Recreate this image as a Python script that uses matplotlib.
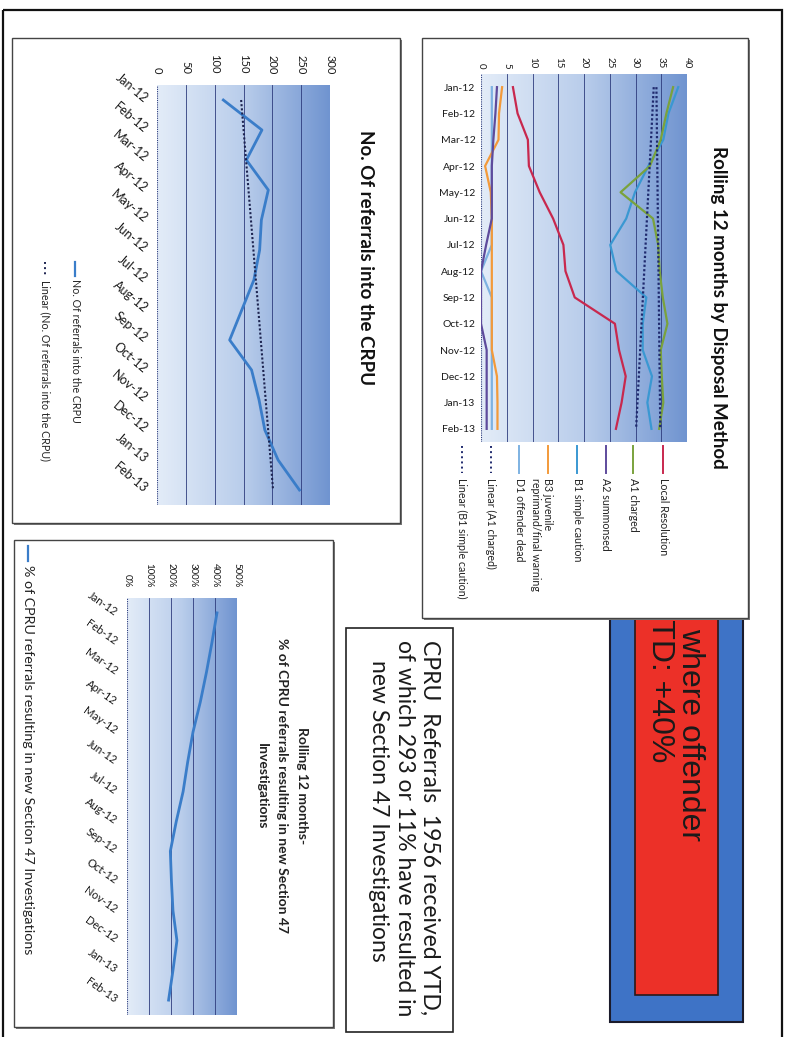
import numpy as np
import matplotlib
matplotlib.use("Agg")
from matplotlib import pyplot as plt
from matplotlib.colors import LinearSegmentedColormap
from matplotlib.patches import Rectangle

W, H = 790, 1037
plt.rcParams['font.family'] = ['Lato', 'DejaVu Sans']

months = ['Jan-12', 'Feb-12', 'Mar-12', 'Apr-12', 'May-12', 'Jun-12', 'Jul-12',
          'Aug-12', 'Sep-12', 'Oct-12', 'Nov-12', 'Dec-12', 'Jan-13', 'Feb-13']

# Rolling 12 months by disposal method
local_resolution = [6.2, 7.1, 9.1, 9.3, 11.4, 14.0, 16.0, 16.4, 18.2, 26.0, 26.8, 28.1, 27.3, 26.2]
a1_charged = [37.3, 36.0, 34.9, 32.8, 27.1, 33.4, 34.4, 34.7, 35.3, 36.2, 34.9, 35.1, 35.4, 34.6]
a2_summonsed = [3.1, 2.8, 2.4, 2.1, 2.1, 2.1, 1.0, 0.0, 0.0, 0.0, 1.1, 1.1, 1.1, 1.1]
b1_simple_caution = [38.3, 36.4, 35.4, 32.5, 29.9, 28.2, 25.1, 26.3, 32.1, 31.4, 31.4, 33.2, 32.3, 33.1]
b3_juvenile = [4.1, 3.5, 3.4, 0.8, 1.9, 2.1, 2.1, 2.1, 2.1, 2.1, 2.1, 3.1, 3.2, 3.2]
d1_offender_dead = [2.1, 2.1, 2.1, 2.1, 2.1, 2.1, 2.1, 0.0, 2.1, 2.1, 2.1, 2.1, 2.1, 2.1]

# No. of referrals into the CRPU
referrals = [115, 182, 155, 193, 181, 178, 168, 147, 126, 164, 177, 187, 210, 247]

# % of CPRU referrals resulting in new Section 47 investigations
s47_pct = [409, 386, 361, 333, 300, 276, 255, 224, 197, 202, 209, 227, 209, 189]

fig = plt.figure(figsize=(W / 100, H / 100), dpi=100)
fig.patch.set_facecolor('white')

bg = fig.add_axes([0, 0, 1, 1])
bg.set_xlim(0, W)
bg.set_ylim(H, 0)
bg.axis('off')


def page_axes(x0, y0, x1, y1):
    return fig.add_axes([x0 / W, 1 - y1 / H, (x1 - x0) / W, (y1 - y0) / H])


def vtext(x, y, s, size, ha='left', **kw):
    # text reading top to bottom, like the rotated page
    bg.text(x, y, s, rotation=-90, rotation_mode='anchor', ha=ha, va='center',
            fontsize=size, **kw)


grad = LinearSegmentedColormap.from_list('g', ['#e3ecf8', '#b9cdeb', '#7094d0'])


def chart_axes(x0, y0, x1, y1, vmax, step, labels, cat_rot, size, pad=4):
    ax = page_axes(x0, y0, x1, y1)
    n = len(months)
    idx = np.arange(n)
    ax.imshow(np.linspace(0, 1, 256).reshape(1, -1), extent=[0, vmax, n - 0.5, -0.5],
              aspect='auto', cmap=grad, zorder=0)
    ticks = np.arange(0, vmax + step / 2, step)
    for v in ticks[1:]:
        ax.axvline(v, color='#2d3b7c', lw=0.6, zorder=1)
    ax.axvline(0, color='#2d3b7c', lw=0.8, ls=(0, (1, 1)), zorder=1)
    ax.set_xlim(0, vmax)
    ax.set_ylim(n - 0.5, -0.5)
    ax.xaxis.tick_top()
    ax.set_xticks(ticks)
    ax.set_xticklabels(labels, rotation=-90, fontsize=size, color='#1a1a1a')
    ax.set_yticks(idx)
    if cat_rot:
        ax.set_yticklabels(months, rotation=cat_rot, rotation_mode='anchor',
                           ha='right', va='center', fontsize=size + 1, color='#1a1a1a')
    else:
        ax.set_yticklabels(months, fontsize=size + 0.5, color='#1a1a1a')
    ax.tick_params(length=0, pad=pad)
    for s in ax.spines.values():
        s.set_visible(False)
    return ax, idx


# page frame
bg.add_patch(Rectangle((3, 10), 779, 1040, fill=False, ec='#111111', lw=1.6, zorder=1))

# red / blue headline box, partly hidden by the disposal chart
bg.add_patch(Rectangle((610, 590), 133, 432, fc='#3e73c6', ec='#1b1b2b', lw=1.5, zorder=1))
bg.add_patch(Rectangle((635, 590), 83, 405, fc='#ec3028', ec='#2a1a1a', lw=1.2, zorder=1))
bg.text(690, 628, 'where offender', rotation=-90, rotation_mode='anchor', ha='left',
        va='center', fontsize=23, family='Liberation Sans', color='#1a1a1a', zorder=2)
bg.text(660, 598, 'YTD: +40%', rotation=-90, rotation_mode='anchor', ha='left',
        va='center', fontsize=23, family='Liberation Sans', color='#1a1a1a', zorder=2)

# chart frames
for (x0, y0, x1, y1) in [(422, 38, 748, 618), (12, 38, 400, 523), (14, 540, 333, 1027)]:
    bg.add_patch(Rectangle((x0 + 2, y0 + 2), x1 - x0, y1 - y0, fc='#777777', ec='none', zorder=3))
    bg.add_patch(Rectangle((x0, y0), x1 - x0, y1 - y0, fc='white', ec='#444444', lw=1.0, zorder=3))

# text box
bg.add_patch(Rectangle((346, 628), 107, 404, fc='white', ec='#222222', lw=1.2, zorder=3))
vtext(430, 640, 'CPRU  Referrals  1956 received YTD,', 16.5, color='#1a1a1a', zorder=4)
vtext(405, 640, 'of which 293 or 11% have resulted in', 16.5, color='#1a1a1a', zorder=4)
vtext(379, 811, 'new Section 47 Investigations', 16.5, ha='center', color='#1a1a1a', zorder=4)

# ---- chart 1: disposal method
ax1, idx = chart_axes(481, 74, 687, 442, 40, 5, [str(v) for v in range(0, 41, 5)], 0, 7)
series1 = [
    ('Local Resolution', local_resolution, '#c8284e'),
    ('A1 charged', a1_charged, '#7aa23c'),
    ('A2 summonsed', a2_summonsed, '#5e4b9c'),
    ('B1 simple caution', b1_simple_caution, '#3a98d2'),
    ('B3 juvenile', b3_juvenile, '#f39a3a'),
    ('D1 offender dead', d1_offender_dead, '#7eb2e2'),
]
for name, vals, col in reversed(series1):
    ax1.plot(vals, idx, color=col, lw=1.6, zorder=3)
trend_col = '#1f2a6e'
for vals in [a1_charged, b1_simple_caution]:
    p = np.polyfit(idx, vals, 1)
    ax1.plot(np.polyval(p, idx), idx, color=trend_col, lw=1.6, ls=(0, (1, 1)), zorder=4)

vtext(718, 307, 'Rolling 12 months by Disposal Method', 13.5, ha='center', weight='bold',
      color='#111111', zorder=4)

legend1 = [(663, 'Local Resolution', '#c8284e', '-'),
           (633, 'A1 charged', '#7aa23c', '-'),
           (606, 'A2 summonsed', '#5e4b9c', '-'),
           (577, 'B1 simple caution', '#3a98d2', '-'),
           (548, 'B3 juvenile', '#f39a3a', '-'),
           (519, 'D1 offender dead', '#7eb2e2', '-'),
           (491, 'Linear (A1 charged)', trend_col, ':'),
           (462, 'Linear (B1 simple caution)', trend_col, ':')]
for x, lab, col, ls in legend1:
    bg.plot([x, x], [446, 473], color=col, lw=1.4, ls=ls, zorder=4)
    vtext(x, 478, lab, 7.7, color='#222222', zorder=4)
vtext(535, 478, 'reprimand/final warning', 7.7, color='#222222', zorder=4)

# ---- chart 2: referrals
ax2, idx = chart_axes(157, 85, 330, 505, 300, 50, [str(v) for v in range(0, 301, 50)], -40, 8, pad=8)
ax2.plot(referrals, idx, color='#3a7dc9', lw=2.0, zorder=3)
p = np.polyfit(idx, referrals, 1)
ax2.plot(np.polyval(p, idx), idx, color='#1d2450', lw=1.5, ls=(0, (1, 1)), zorder=4)
vtext(365, 258, 'No. Of referrals into the CRPU', 13.5, ha='center', weight='bold',
      color='#111111', zorder=4)
bg.plot([75, 75], [262, 276], color='#3a7dc9', lw=1.6, zorder=4)
vtext(75, 279, 'No. Of referrals into the CRPU', 7.7, color='#222222', zorder=4)
bg.plot([45, 45], [262, 277], color='#1d2450', lw=1.4, ls=':', zorder=4)
vtext(45, 280, 'Linear (No. Of referrals into the CRPU)', 7.7, color='#222222', zorder=4)

# ---- chart 3: % resulting in S47
ax3, idx = chart_axes(127, 598, 237, 1015, 500, 100, ['%d%%' % v for v in range(0, 501, 100)], -35, 7, pad=8)
ax3.plot(s47_pct, idx, color='#3a7dc9', lw=2.0, zorder=3)
vtext(302, 786, 'Rolling 12 months-', 10, ha='center', weight='bold', color='#222222', zorder=4)
vtext(282, 786, '% of CPRU referrals resulting in new Section 47', 10, ha='center',
      weight='bold', color='#222222', zorder=4)
vtext(262, 786, 'Investigations', 10, ha='center', weight='bold', color='#222222', zorder=4)
bg.plot([28, 28], [546, 561], color='#3a7dc9', lw=1.6, zorder=4)
vtext(28, 565, '% of CPRU referrals resulting in new Section 47 Investigations', 10.3,
      color='#222222', zorder=4)

fig.savefig('out.png', dpi=100)
